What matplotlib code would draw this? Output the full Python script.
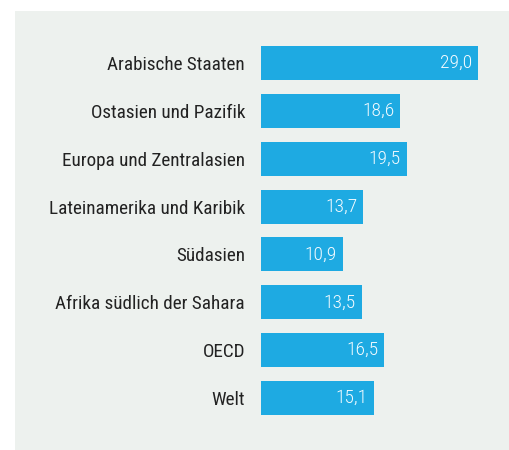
import matplotlib.pyplot as plt
from matplotlib.patches import Rectangle

# data
regions = ['Arabische Staaten', 'Ostasien und Pazifik', 'Europa und Zentralasien',
           'Lateinamerika und Karibik', 'Südasien', 'Afrika südlich der Sahara',
           'OECD', 'Welt']
values = [29.0, 18.6, 19.5, 13.7, 10.9, 13.5, 16.5, 15.1]
value_labels = ['29,0', '18,6', '19,5', '13,7', '10,9', '13,5', '16,5', '15,1']

plt.rcParams['font.family'] = ['Roboto Condensed', 'DejaVu Sans']
plt.rcParams['font.stretch'] = 'condensed'

W, H = 509, 450
fig = plt.figure(figsize=(W / 100, H / 100), dpi=100)
fig.patch.set_facecolor('white')

# grey panel
fig.patches.append(Rectangle((15 / W, 0), 1 - 15 / W, 1 - 11 / H,
                             transform=fig.transFigure, facecolor='#edf1ee',
                             edgecolor='none', zorder=-10))

ax = fig.add_axes([261 / W, (H - 422) / H, 248 / W, 383 / H])
ax.set_facecolor('none')
ax.set_zorder(5)

ypos = list(range(len(regions)))
ax.barh(ypos, values, height=0.71, color='#1eaae2', edgecolor='none')
ax.set_xlim(0, 248 / 7.48)
ax.set_ylim(len(regions) - 0.5, -0.5)

for y, v, lab in zip(ypos, values, value_labels):
    ax.text(v - 0.8, y, lab, ha='right', va='center', color='#f4fbff',
            fontsize=14, fontweight='light')

ax.set_yticks(ypos)
ax.set_yticklabels(regions, fontsize=13.8, color='#222222', fontweight='normal')
ax.tick_params(axis='y', length=0, pad=11.5)
ax.set_xticks([])
for s in ax.spines.values():
    s.set_visible(False)

fig.savefig('out.png', dpi=100)
